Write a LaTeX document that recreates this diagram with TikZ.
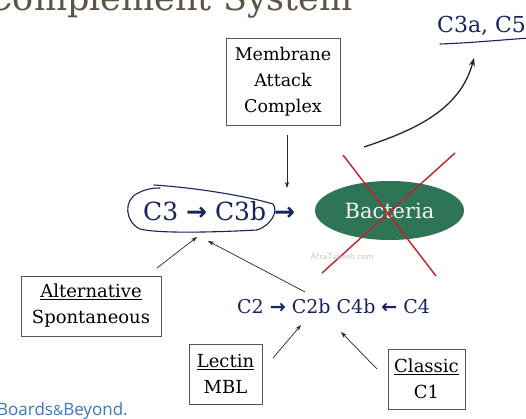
\documentclass[tikz,border=0pt]{standalone}
\usepackage{fontspec}
\setmainfont{DejaVu Serif}
\newfontfamily\arrfont{DejaVu Sans}
\newfontfamily\logofont{Open Sans}
\usetikzlibrary{arrows.meta,shapes.geometric}
\definecolor{navy}{HTML}{16235F}
\definecolor{titlebrown}{HTML}{5E5444}
\definecolor{bactgreen}{HTML}{2E7557}
\definecolor{xred}{HTML}{C8202A}
\definecolor{logoblue}{HTML}{3A78C2}
\definecolor{boxline}{HTML}{555555}
\begin{document}
\begin{tikzpicture}[x=1pt,y=-1pt,
  box/.style={draw=boxline, line width=0.7pt, fill=white, inner sep=0pt, align=center},
  thinarrow/.style={draw=black!85, line width=0.7pt, -{Stealth[length=6pt,width=4pt]}},
  redx/.style={draw=xred, line width=1.4pt},
  handdrawn/.style={draw=navy, line width=1.1pt, line cap=round, line join=round}]
\useasboundingbox (0,0) rectangle (526,419);
\fill[white] (0,0) rectangle (526,419);

% title (cut at top, as in the reference)
\node[anchor=base west, inner sep=0pt, text=titlebrown, font=\fontsize{35}{35}\selectfont] (title) at (-14,11) {Complement System};

% boxes
\node[box, minimum width=114pt, minimum height=87pt, font=\fontsize{17.5}{26}\selectfont] (mac) at (283,81.5) {Membrane\\Attack\\Complex};
\node[box, minimum width=140pt, minimum height=60pt, font=\fontsize{18}{26}\selectfont] (alt) at (91,306) {\underline{Alternative}\\Spontaneous};
\node[box, minimum width=73pt, minimum height=60pt, font=\fontsize{18}{26}\selectfont] (lec) at (225.5,374) {\underline{Lectin}\\MBL};
\node[box, minimum width=77pt, minimum height=60pt, font=\fontsize{18}{26}\selectfont] (cla) at (426.5,379) {\underline{Classic}\\C1};

% bacteria
\node[ellipse, fill=bactgreen, minimum width=149pt, minimum height=59pt, inner sep=0pt, text=white!95!black, font=\fontsize{21}{21}\selectfont] (bact) at (389.5,210.5) {Bacteria};
\draw[redx] (343,155) -- (436,276);
\draw[redx] (455,153) -- (322,273);

% watermark
\node[text=black!22, font=\sffamily\fontsize{9}{9}\selectfont] (wm) at (342,256) {AfraTabeeh.com};

% C3 line
\node[anchor=base west, inner sep=0pt, text=navy, font=\fontsize{25}{25}\selectfont] (c3) at (143,221) {C3 {\arrfont\bfseries →} C3b {\arrfont\bfseries →}};
\draw[handdrawn] (154,185) .. controls (200,188) and (250,197) .. (273,204)
  .. controls (279,212) and (270,226) .. (257,230)
  .. controls (220,232) and (160,234) .. (140,229)
  .. controls (125,222) and (123,200) .. (138,193)
  .. controls (144,190) and (150,188) .. (160,188);

% C2 line
\node[anchor=base west, inner sep=0pt, text=navy, font=\fontsize{19}{19}\selectfont] (c2) at (237,313) {C2 {\arrfont\bfseries →} C2b C4b {\arrfont\bfseries ←} C4};

% C3a, C5
\node[anchor=base west, inner sep=0pt, text=navy, font=\fontsize{22}{22}\selectfont] (c3a) at (437,33) {C3a, C5};
\draw[handdrawn] (440,44) .. controls (470,43) and (500,40) .. (530,38);

% arrows
\coordinate (macout) at (287,135);
\coordinate (c3in) at (287,188);
\draw[thinarrow] (macout) -- (c3in);
\coordinate (bactout) at (364,147);
\coordinate (c3ain) at (474,58);
\draw[thinarrow, line width=1.3pt, -{Stealth[length=8pt,width=6pt]}] (bactout) .. controls (415,130) and (460,110) .. (c3ain);
\coordinate (altout) at (157,268);
\coordinate (c3inA) at (197,237);
\draw[thinarrow] (altout) -- (c3inA);
\coordinate (c2out) at (305,292);
\coordinate (c3inB) at (208,241);
\draw[thinarrow] (c2out) -- (c3inB);
\coordinate (lecout) at (273,358);
\coordinate (c2inA) at (301,325);
\draw[thinarrow] (lecout) -- (c2inA);
\coordinate (claout) at (377,369);
\coordinate (c2inB) at (341,332);
\draw[thinarrow] (claout) -- (c2inB);

% logo (cut at the left edge, as in the reference)
\node[anchor=base west, inner sep=0pt, text=logoblue, font=\logofont\fontsize{17}{17}\selectfont] (logo) at (-3,415) {Boards{\fontsize{14}{14}\selectfont\&}Beyond.};
\end{tikzpicture}
\end{document}
